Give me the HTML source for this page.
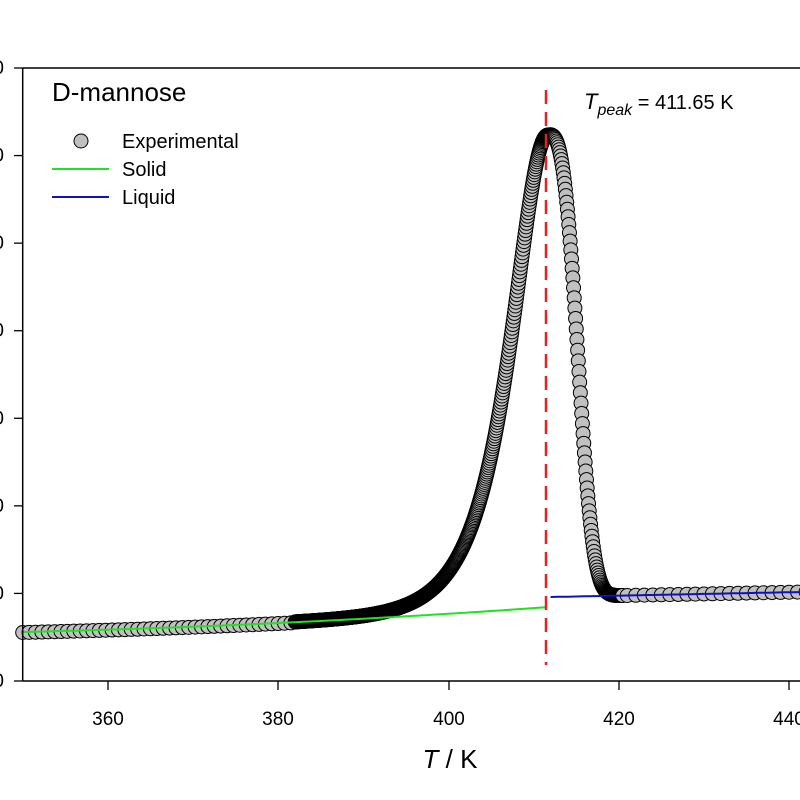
<!DOCTYPE html>
<html><head><meta charset="utf-8"><style>
html,body{margin:0;padding:0;background:#fff;}
svg{display:block;font-family:"Liberation Sans",Arial,sans-serif;}
</style></head><body>
<svg id="s" width="800" height="800" viewBox="0 0 800 800" xmlns="http://www.w3.org/2000/svg">
<rect width="800" height="800" fill="#fff"/>
<g id="pts"></g>
<g id="lines"></g>
<line x1="546" y1="90" x2="546" y2="665" stroke="#e02424" stroke-width="2.5" stroke-dasharray="14,8"/>
<line x1="22.7" y1="68" x2="800" y2="68" stroke="#000" stroke-width="1.5"/>
<line x1="22.7" y1="68" x2="22.7" y2="681" stroke="#000" stroke-width="1.5"/>
<line x1="22.7" y1="681" x2="800" y2="681" stroke="#000" stroke-width="1.5"/>
<g id="ticks" stroke="#000" stroke-width="1.3"></g>
<g font-size="19" text-anchor="middle" fill="#000">
<text x="108" y="725">360</text><text x="278" y="725">380</text><text x="449" y="725">400</text><text x="619" y="725">420</text><text x="789" y="725">440</text>
</g>
<g font-size="19" text-anchor="end" fill="#000" id="ylab"></g>
<text x="450" y="768" font-size="26" text-anchor="middle"><tspan font-style="italic">T</tspan> / K</text>
<text x="52" y="101" font-size="26">D-mannose</text>
<circle cx="81" cy="141" r="7" fill="#c0c0c0" stroke="#000" stroke-width="1"/>
<text x="122" y="148" font-size="20">Experimental</text>
<line x1="52" y1="169" x2="109" y2="169" stroke="#22e022" stroke-width="2"/>
<text x="122" y="176" font-size="20">Solid</text>
<line x1="52" y1="197" x2="109" y2="197" stroke="#1010c0" stroke-width="2"/>
<text x="122" y="204" font-size="20">Liquid</text>
<text x="584" y="109" font-size="20"><tspan font-style="italic" font-size="22">T</tspan><tspan font-style="italic" font-size="16" dy="6">peak</tspan><tspan dy="-6"> = 411.65 K</tspan></text>
</svg>
<script>
var NS="http://www.w3.org/2000/svg";
function X(T){return 22.7+(T-350)*8.515;}
function ys(T){var d=T-350;return 632-0.2*d-0.0033*d*d;}
function yl(T){return 597-0.17*(T-412);}
var Tp=411.65,H=472;
function yexp(T){
 var d=T-Tp,base,h;
 if(d<=0){h=1/Math.cosh(d/3.75);base=ys(T);}
 else{h=Math.exp(-Math.pow(d/4.1,3));var w=Math.min(1,d/6);base=ys(Tp)*(1-w)+yl(T)*w;}
 return base-H*h;
}
var g=document.getElementById('pts'),T,list=[];
for(T=350;T<382;T+=0.75)list.push(T);
for(T=382;T<Tp;T+=0.06)list.push(T);
for(T=Tp;T<420.5;T+=0.08)list.push(T);
for(T=421;T<=446;T+=1)list.push(T);
list.forEach(function(t){var c=document.createElementNS(NS,'circle');c.setAttribute('cx',X(t));c.setAttribute('cy',t<382?ys(t)+0.5:yexp(t));c.setAttribute('r',7);c.setAttribute('fill','#c0c0c0');c.setAttribute('stroke','#000');c.setAttribute('stroke-width','1');g.appendChild(c);});
var L=document.getElementById('lines');
function pl(a,b,f,col){var p=[];for(var t=a;t<=b+1e-9;t+=0.5)p.push(X(t).toFixed(1)+','+f(t).toFixed(1));var e=document.createElementNS(NS,'polyline');e.setAttribute('points',p.join(' '));e.setAttribute('fill','none');e.setAttribute('stroke',col);e.setAttribute('stroke-width','2');L.appendChild(e);}
pl(350,411.5,ys,'#22e022');
pl(412,446,yl,'#1010c0');
var tk=document.getElementById('ticks'),yl2=document.getElementById('ylab');
for(var i=0;i<8;i++){var y=68+i*87.57;var l=document.createElementNS(NS,'line');l.setAttribute('x1',14);l.setAttribute('x2',22.7);l.setAttribute('y1',y);l.setAttribute('y2',y);tk.appendChild(l);
var t=document.createElementNS(NS,'text');t.setAttribute('x',4);t.setAttribute('y',y+6);t.textContent='0';yl2.appendChild(t);}
[108,278,449,619,789].forEach(function(x){var l=document.createElementNS(NS,'line');l.setAttribute('x1',x);l.setAttribute('x2',x);l.setAttribute('y1',681);l.setAttribute('y2',690);tk.appendChild(l);});
</script>
</body></html>
